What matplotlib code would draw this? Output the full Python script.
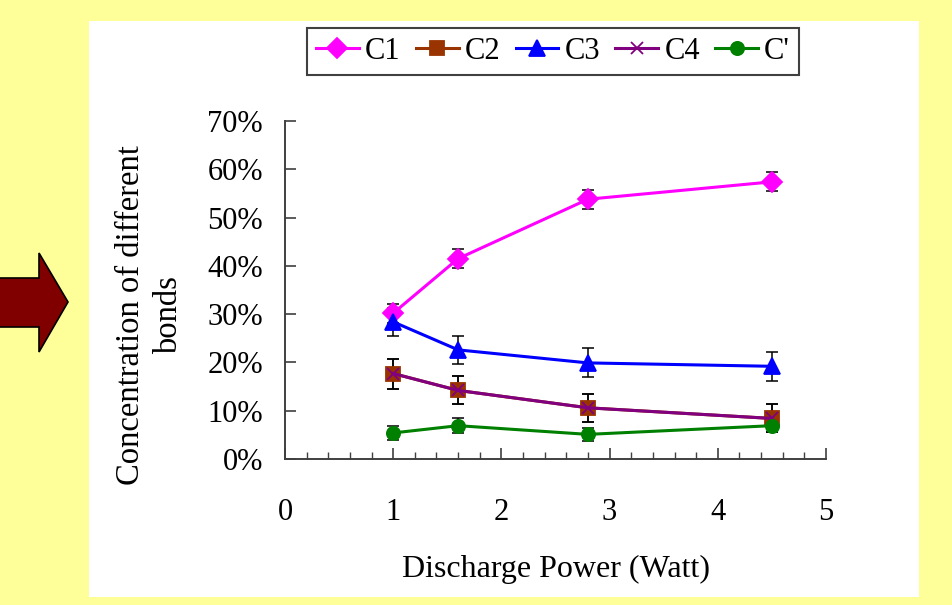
import matplotlib
matplotlib.use("Agg")
import matplotlib.pyplot as plt
from matplotlib.patches import Rectangle, Polygon
from matplotlib.ticker import MultipleLocator, PercentFormatter

# discharge power (W) and bond concentrations (%)
power = [1.0, 1.6, 2.8, 4.5]

c1 = [30.2, 41.5, 53.8, 57.4]
c2 = [17.7, 14.2, 10.6, 8.4]
c3 = [28.4, 22.6, 19.9, 19.2]
c4 = [17.7, 14.2, 10.6, 8.4]
c_prime = [5.4, 6.9, 5.1, 6.9]

c1_err = [2.0, 1.9, 2.0, 2.0]
c2_err = [3.1, 2.9, 2.9, 2.9]
c3_err = [2.9, 2.9, 3.0, 3.0]
c4_err = [3.1, 2.9, 2.9, 2.9]
c_prime_err = [1.4, 1.5, 1.4, 1.4]

labels = ["C1", "C2", "C3", "C4", "C'"]

plt.rcParams['font.family'] = ['Liberation Serif', 'DejaVu Serif']

W, H = 952, 605
fig = plt.figure(figsize=(W / 100, H / 100), dpi=100)

# slide background: yellow page, white chart panel, red arrow
bg = fig.add_axes([0, 0, 1, 1])
bg.set_xlim(0, W)
bg.set_ylim(H, 0)
bg.axis('off')
bg.add_patch(Rectangle((0, 0), W, H, facecolor='#FFFF99', edgecolor='none'))
bg.add_patch(Rectangle((89, 21), 830, 576, facecolor='white', edgecolor='none'))
arrow_pts = [(-5, 278), (39, 278), (39, 253), (68, 302), (39, 352), (39, 327), (-5, 327)]
bg.add_patch(Polygon(arrow_pts, closed=True, facecolor='#800000', edgecolor='black', lw=1.2))

ax = fig.add_axes([285 / W, 1 - 459 / H, (826 - 285) / W, (459 - 121) / H])
ax.patch.set_alpha(0)

series = [
    (c1, c1_err, '#FF00FF', 'D', 10),
    (c2, c2_err, '#993300', 's', 10),
    (c3, c3_err, '#0000FF', '^', 11),
    (c4, c4_err, '#800080', 'x', 9),
    (c_prime, c_prime_err, '#008000', 'o', 9.5),
]

handles = []
for (vals, err, col, mk, ms), lab in zip(series, labels):
    ax.errorbar(power, vals, yerr=err, fmt='none', ecolor='black',
                elinewidth=1.1, capsize=4, capthick=1.1, zorder=2)
    h, = ax.plot(power, vals, color=col, lw=2.2, marker=mk, ms=ms,
                 mfc=col, mec=col, mew=1.3, label=lab, zorder=3)
    handles.append(h)

ax.set_xlim(0, 5)
ax.set_ylim(0, 70)
ax.xaxis.set_major_locator(MultipleLocator(1))
ax.xaxis.set_minor_locator(MultipleLocator(0.2))
ax.yaxis.set_major_locator(MultipleLocator(10))
ax.yaxis.set_major_formatter(PercentFormatter(100, decimals=0))

for side in ('top', 'right'):
    ax.spines[side].set_visible(False)
for side in ('left', 'bottom'):
    ax.spines[side].set_color('#404040')
    ax.spines[side].set_linewidth(1.4)

ax.tick_params(axis='both', which='major', direction='in', length=8,
               width=1.2, color='#404040', labelsize=22)
ax.tick_params(axis='x', which='minor', direction='in', length=5,
               width=1.0, color='#404040')
ax.tick_params(axis='x', which='major', pad=28)
ax.tick_params(axis='y', which='major', pad=16)

ax.set_xlabel("Discharge Power (Watt)", fontsize=23, labelpad=20)
fig.text(150 / W, 1 - 315 / H, "Concentration of different\nbonds",
         rotation=90, ha='center', va='center', fontsize=23.5,
         multialignment='center', linespacing=1.3)

leg = fig.legend(handles=handles, loc='center', ncol=5,
                 bbox_to_anchor=(553 / W, 1 - 51.5 / H), fontsize=22,
                 handlelength=1.4, handletextpad=0.2, columnspacing=0.5,
                 borderpad=0.3, fancybox=False, framealpha=1)
leg.get_frame().set_edgecolor('#404040')
leg.get_frame().set_linewidth(1.5)

fig.savefig("out.png", dpi=100)
